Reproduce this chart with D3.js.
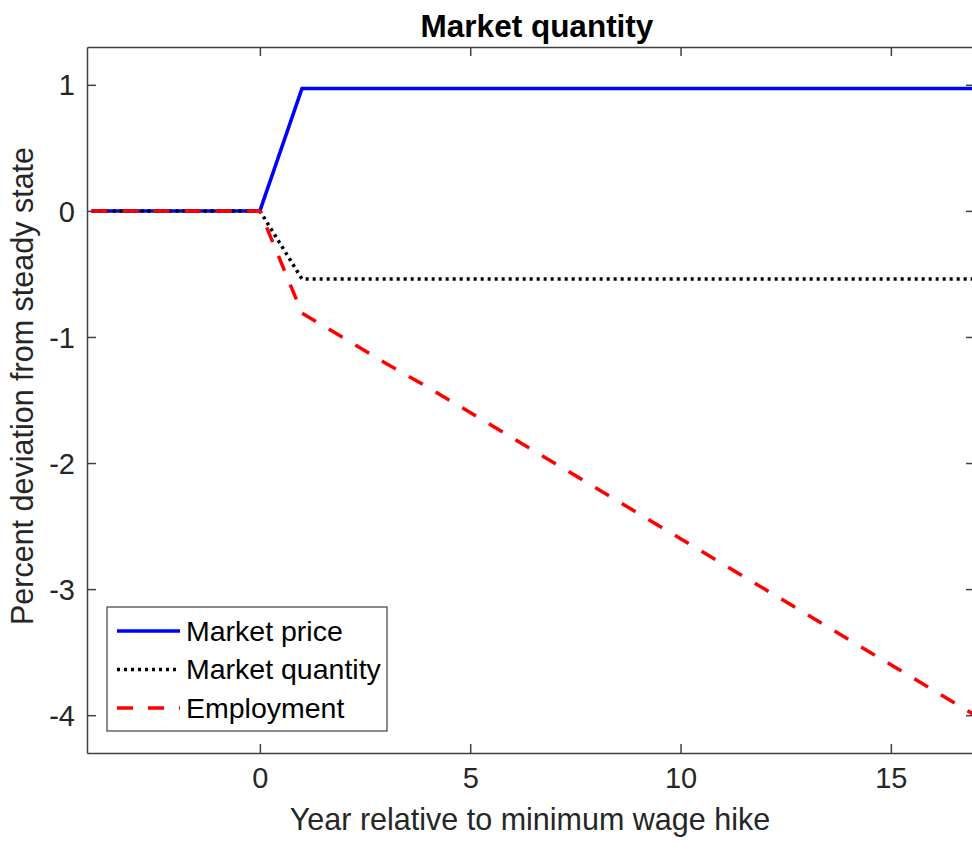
<!DOCTYPE html>
<html>
<head>
<meta charset="utf-8">
<script src="https://cdn.jsdelivr.net/npm/d3@7"></script>
<style>
  body { margin: 0; background: #fff; }
  text { font-family: "Liberation Sans", Arial, Helvetica, sans-serif; fill: #262626; }
</style>
</head>
<body>
<script>

// years relative to the hike
var years = [-4, -3, -2, -1, 0, 1, 2, 3, 4, 5, 6, 7, 8, 9, 10, 11, 12, 13, 14, 15, 16, 17]
var price = [0, 0, 0, 0, 0, 0.97, 0.97, 0.97, 0.97, 0.97, 0.97, 0.97, 0.97, 0.97, 0.97, 0.97, 0.97, 0.97, 0.97, 0.97, 0.97, 0.97]
var quantity = [0, 0, 0, 0, 0, -0.54, -0.54, -0.54, -0.54, -0.54, -0.54, -0.54, -0.54, -0.54, -0.54, -0.54, -0.54, -0.54, -0.54, -0.54, -0.54, -0.54]
var employment = [0, 0, 0, 0, 0, -0.81, -1.01, -1.21, -1.40, -1.60, -1.80, -2.00, -2.20, -2.40, -2.60, -2.80, -3.00, -3.20, -3.40, -3.60, -3.80, -4.00]
var xTicks = [0, 5, 10, 15]
var yTicks = [-4, -3, -2, -1, 0, 1]

var series = [
  {name: 'Market price', values: price, color: '#0000ff', dash: null},
  {name: 'Market quantity', values: quantity, color: '#000000', dash: '3,4'},
  {name: 'Employment', values: employment, color: '#ff0000', dash: '16,15'}
]

var W = 972, H = 850
var mLeft = 87, mRight = 975, mTop = 47, mBottom = 753

var svg = d3.select('body').append('svg').attr('width', W).attr('height', H)

var x = d3.scaleLinear().domain([-4.11, 17]).range([mLeft, mRight])
var y = d3.scaleLinear().domain([-4.3, 1.3]).range([mBottom, mTop])

svg.append('clipPath').attr('id', 'clip')
  .append('rect').attr('x', mLeft).attr('y', mTop).attr('width', mRight - mLeft).attr('height', mBottom - mTop)

// plain hyphen minus, like the original
var fmt = function(d){ return String(d) }

// axes, ticks inside on all four sides
var tk = 9, axisColor = '#404040'
var gx = svg.append('g').attr('transform', 'translate(0,' + mBottom + ')')
  .call(d3.axisBottom(x).tickValues(xTicks).tickSizeInner(-tk).tickSizeOuter(0).tickPadding(14).tickFormat(fmt))
var gxt = svg.append('g').attr('transform', 'translate(0,' + mTop + ')')
  .call(d3.axisTop(x).tickValues(xTicks).tickSizeInner(-tk).tickSizeOuter(0).tickFormat(''))
var gy = svg.append('g').attr('transform', 'translate(' + mLeft + ',0)')
  .call(d3.axisLeft(y).tickValues(yTicks).tickSizeInner(-tk).tickSizeOuter(0).tickPadding(12).tickFormat(fmt))
var gyr = svg.append('g').attr('transform', 'translate(' + mRight + ',0)')
  .call(d3.axisRight(y).tickValues(yTicks).tickSizeInner(-tk).tickSizeOuter(0).tickFormat(''))

;[gx, gxt, gy, gyr].forEach(function(g){
  g.select('.domain').attr('stroke', axisColor).attr('stroke-width', 1.5)
  g.selectAll('.tick line').attr('stroke', axisColor).attr('stroke-width', 1.5)
  g.selectAll('.tick text').attr('font-size', 29).attr('fill', '#262626')
    .attr('font-family', '"Liberation Sans", Arial, sans-serif')
})
gy.selectAll('.tick text').attr('dy', '0.35em')
gx.selectAll('.tick text').attr('dy', '0.71em')

// lines
var line = d3.line().x(function(d){ return x(d[0]) }).y(function(d){ return y(d[1]) })
var plot = svg.append('g').attr('clip-path', 'url(#clip)')
series.forEach(function(s){
  plot.append('path')
    .datum(years.map(function(t, i){ return [t, s.values[i]] }))
    .attr('d', line)
    .attr('fill', 'none')
    .attr('stroke', s.color)
    .attr('stroke-width', 3.5)
    .attr('stroke-dasharray', s.dash)
})

// titles
svg.append('text').attr('x', 537).attr('y', 37).attr('text-anchor', 'middle')
  .attr('font-size', 31.5).attr('font-weight', 'bold').style('fill', '#000').text('Market quantity')
svg.append('text').attr('x', (mLeft + mRight) / 2 - 1).attr('y', 830).attr('text-anchor', 'middle')
  .attr('font-size', 30.5).text('Year relative to minimum wage hike')
svg.append('text').attr('transform', 'translate(33,386) rotate(-90)').attr('text-anchor', 'middle')
  .attr('font-size', 30.5).text('Percent deviation from steady state')

// legend
var lg = svg.append('g')
lg.append('rect').attr('x', 107).attr('y', 607).attr('width', 280).attr('height', 124)
  .attr('fill', '#fff').attr('stroke', axisColor).attr('stroke-width', 1.2)
series.forEach(function(s, i){
  var yy = 631 + i * 38.5
  lg.append('line').attr('x1', 117).attr('x2', 180).attr('y1', yy).attr('y2', yy)
    .attr('stroke', s.color).attr('stroke-width', 3.5).attr('stroke-dasharray', s.dash)
  lg.append('text').attr('x', 186).attr('y', yy).attr('dy', '0.35em')
    .attr('font-size', 28.5).style('fill', '#000').text(s.name)
})

</script>
</body>
</html>
